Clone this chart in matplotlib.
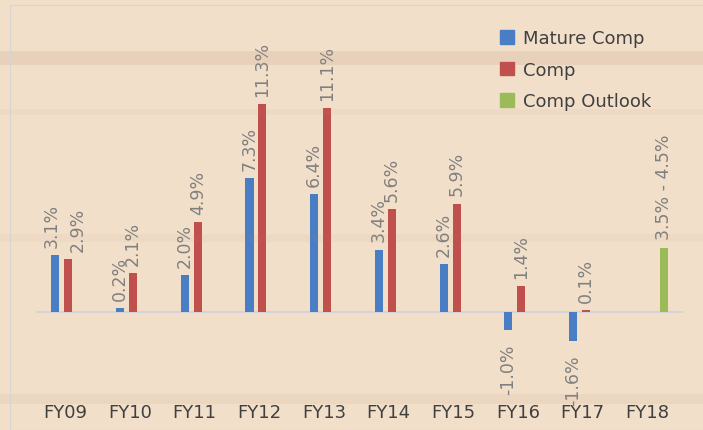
import numpy as np
import matplotlib.pyplot as plt
from matplotlib.patches import Rectangle

# Data
years = ['FY09', 'FY10', 'FY11', 'FY12', 'FY13', 'FY14', 'FY15', 'FY16', 'FY17', 'FY18']
mature_comp = [3.1, 0.2, 2.0, 7.3, 6.4, 3.4, 2.6, -1.0, -1.6, None]
comp = [2.9, 2.1, 4.9, 11.3, 11.1, 5.6, 5.9, 1.4, 0.1, None]
outlook = [None] * 9 + [3.5]
outlook_label = '3.5% - 4.5%'

blue = '#4A7EC4'
red = '#C0504D'
green = '#9BBB59'
bg = '#F2DFC9'
label_col = '#808080'
text_col = '#404040'

W, H = 703, 431
fig = plt.figure(figsize=(W / 100, H / 100), dpi=100, facecolor=bg)

# a few darker wood streaks
for y0, h, a in [(52, 14, 0.16), (110, 6, 0.06), (235, 8, 0.05), (395, 10, 0.10)]:
    fig.patches.append(Rectangle((0, 1 - (y0 + h) / H), 1, h / H, transform=fig.transFigure,
                                 facecolor='#B08A78', alpha=a, edgecolor='none', zorder=0))
# chart border
fig.patches.append(Rectangle((10 / W, 0), 1, 1 - 6 / H, transform=fig.transFigure,
                             facecolor='none', edgecolor='#D8D4D0', lw=0.8, zorder=1))

ax = fig.add_axes([36 / W, 1 - 400 / H, (683 - 36) / W, 380 / H])
ax.set_facecolor('none')
ax.set_xlim(-0.5, 9.5)
ax.set_ylim(-4.73, 15.95)

x = np.arange(len(years))
bw = 0.124
off = 0.2

def draw(vals, dx, color):
    xs = [xi + dx for xi, v in zip(x, vals) if v is not None]
    vs = [v for v in vals if v is not None]
    ax.bar(xs, vs, width=bw, color=color, zorder=3)
    return xs, vs

bx, bv = draw(mature_comp, -off, blue)
rx, rv = draw(comp, 0, red)
gx, gv = draw(outlook, off, green)

# FY09 labels were nudged apart in the original
nudge = {(0, 'b'): -0.06, (0, 'r'): 0.14}

for key, xs, vs in [('b', bx, bv), ('r', rx, rv)]:
    for i, (xi, v) in enumerate(zip(xs, vs)):
        xl = xi + nudge.get((i, key), 0)
        if v >= 0:
            ax.text(xl, v + 0.45, f'{v:.1f}%', rotation=90, ha='center', va='bottom',
                    fontsize=12.5, color=label_col, zorder=4)
        else:
            ax.text(xl, v - 0.7, f'{v:.1f}%', rotation=90, ha='center', va='top',
                    fontsize=12.5, color=label_col, zorder=4)
ax.text(gx[0], gv[0] + 0.5, outlook_label, rotation=90, ha='center', va='bottom',
        fontsize=12.5, color=label_col, zorder=4)

ax.axhline(0, color='#D3D3D8', lw=1.5, zorder=2)

for s in ax.spines.values():
    s.set_visible(False)
ax.set_yticks([])
ax.set_xticks(x - 0.05)
ax.set_xticklabels(years, fontsize=13, color=text_col)
ax.tick_params(axis='x', length=0, pad=3)

# legend
handles = [Rectangle((0, 0), 1, 1, color=c) for c in (blue, red, green)]
fig.legend(handles, ['Mature Comp', 'Comp', 'Comp Outlook'], loc='upper left',
           bbox_to_anchor=(484 / W, 1 - 14 / H), frameon=False, fontsize=13,
           handlelength=0.75, handleheight=0.75, handletextpad=0.5, labelspacing=0.75,
           labelcolor=text_col)

fig.savefig('out.png', dpi=100, facecolor=bg)
